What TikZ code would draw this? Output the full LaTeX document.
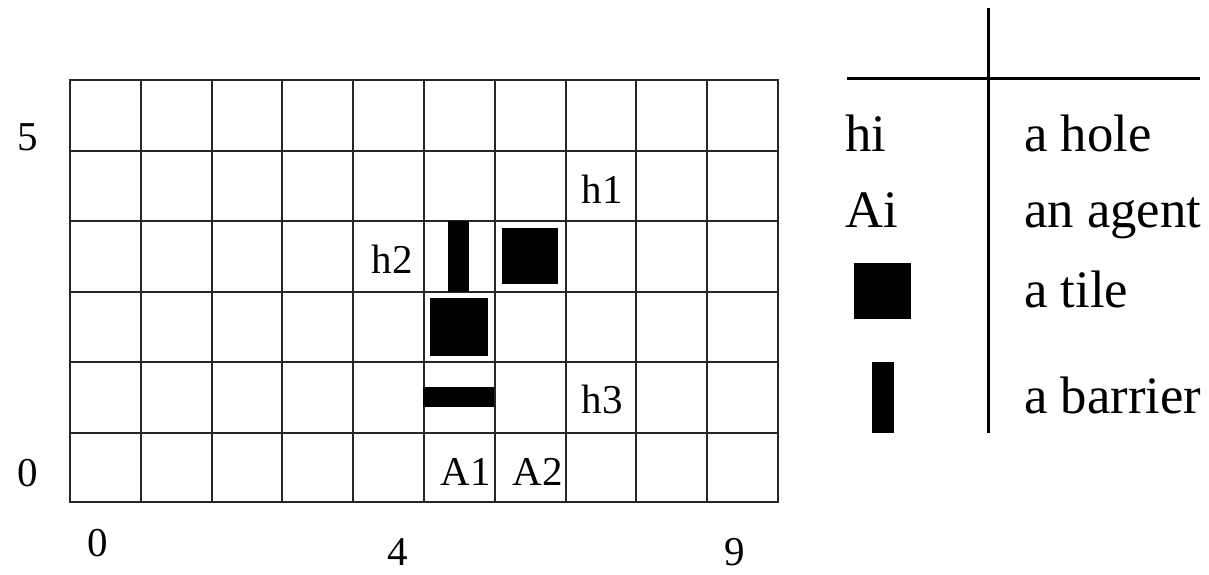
\documentclass[tikz,border=0pt]{standalone}
\usepackage{fontspec}
\setmainfont{Liberation Serif}
\begin{document}
\begin{tikzpicture}[x=1pt,y=-1pt,
  gridline/.style={line width=2pt,draw=black!85},
  legline/.style={line width=3pt},
  lab/.style={inner sep=0pt,anchor=base,font=\fontsize{41}{49}\selectfont},
  leglab/.style={inner sep=0pt,anchor=base west,font=\fontsize{52.7}{62}\selectfont},
  solid block/.style={fill=black}]
\useasboundingbox (0,0) rectangle (1209,575);
% grid
\foreach \i in {0,...,10} {
  \draw[gridline] ({70+70.8*\i},80) -- ({70+70.8*\i},502);
}
\foreach \y in {80,151,221,292,362,433,502} {
  \draw[gridline] (69,\y) -- (779,\y);
}
% tiles and barriers
\fill[solid block] (502,228) rectangle (558,284);
\fill[solid block] (430,298) rectangle (488,356);
\fill[solid block] (448,221) rectangle (469,292);
\fill[solid block] (423,387) rectangle (494,407);
% axis labels
\node[lab] (y5) at (28,150) {5};
\node[lab] (y0) at (28,486) {0};
\node[lab] (x0) at (98,556) {0};
\node[lab] (x4) at (398,565) {4};
\node[lab] (x9) at (735,565) {9};
% grid labels
\node[lab] (h1) at (602,203) {h1};
\node[lab] (h2) at (392,273) {h2};
\node[lab] (h3) at (602,413) {h3};
\node[lab] (A1) at (466,485) {A1};
\node[lab] (A2) at (538,485) {A2};
% legend
\coordinate (vtop) at (988,8);
\coordinate (vbot) at (988,433);
\coordinate (hl) at (847,79);
\coordinate (hr) at (1200,79);
\draw[legline] (vtop) -- (vbot);
\draw[legline] (hl) -- (hr);
\node[leglab] (hi) at (845,151) {hi};
\node[leglab] (Ai) at (845,227) {Ai};
\fill[solid block] (854,263) rectangle (911,319);
\fill[solid block] (872,362) rectangle (894,433);
\node[leglab] (ahole) at (1024,151) {a hole};
\node[leglab] (aagent) at (1024,227) {an agent};
\node[leglab] (atile) at (1024,307) {a tile};
\node[leglab] (abarrier) at (1024,413) {a barrier};
\end{tikzpicture}
\end{document}
